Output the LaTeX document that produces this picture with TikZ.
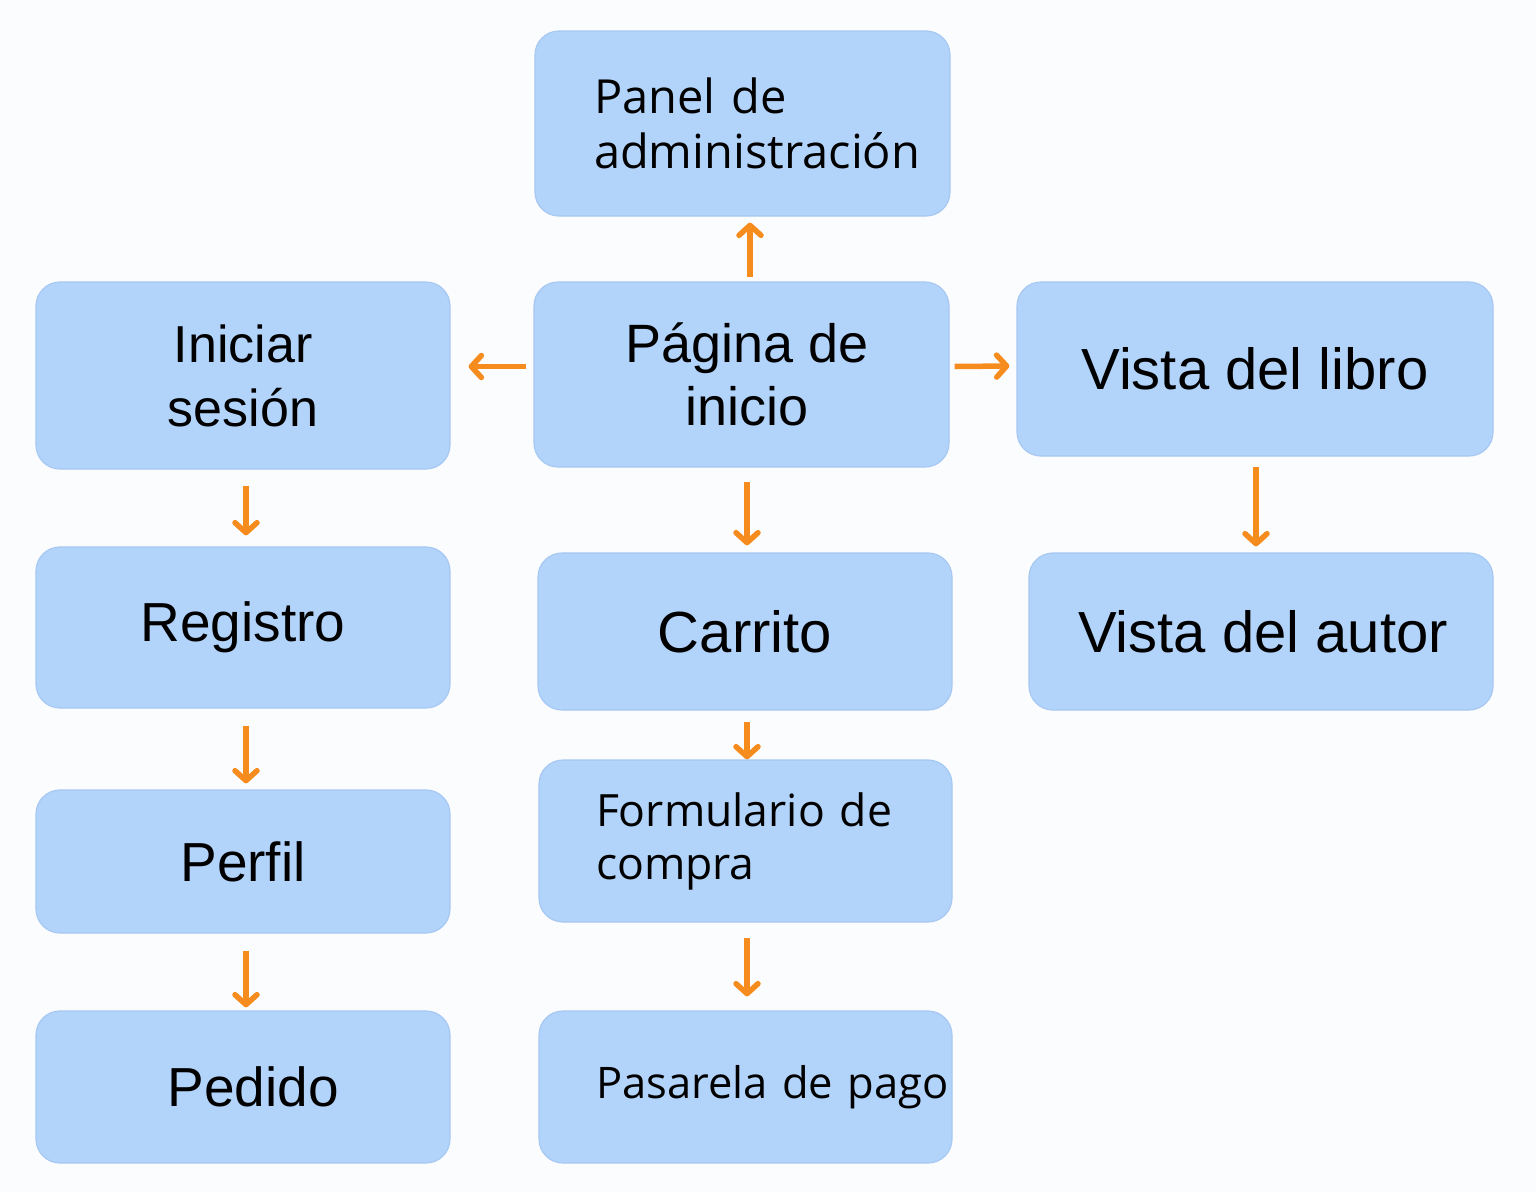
\documentclass[tikz,border=0pt]{standalone}
\usepackage{fontspec}
\setmainfont{Liberation Sans}
\newfontfamily\osans{Open Sans}
\usetikzlibrary{arrows.meta}
\definecolor{bg}{HTML}{FBFCFE}
\definecolor{boxfill}{HTML}{B3D4FA}
\definecolor{boxline}{HTML}{A6C8F2}
\definecolor{arr}{HTML}{F78C1E}
\tikzset{
  box/.style={draw=boxline, fill=boxfill, line width=1.2pt, rounded corners=24pt, inner sep=0pt, align=center, text=black},
  lbox/.style={box, align=left},
  flow/.style={draw=arr, line width=5.5pt, -{Straight Barb[length=10pt,width=22pt,round]}}
}
\begin{document}
\begin{tikzpicture}[x=1pt,y=-1pt]
\fill[bg] (0,0) rectangle (1536,1192);
\useasboundingbox (0,0) rectangle (1536,1192);

\node[lbox, minimum width=415pt, minimum height=185pt, text width=297pt, inner xsep=59pt,
  font=\osans\fontsize{47}{55}\selectfont] (panel) at (742.5,123.5)
  {\mbox{Panel de}\\\mbox{administración}};
\node[box, minimum width=415pt, minimum height=185pt, font=\fontsize{54}{63}\selectfont] (pag) at (741.5,374.5)
  {\hspace*{12pt}Página de\\\hspace*{12pt}inicio};
\node[box, minimum width=414pt, minimum height=187pt, font=\fontsize{52}{64}\selectfont] (ini) at (243,375.5)
  {Iniciar\\sesión};
\node[box, minimum width=476pt, minimum height=174pt, font=\fontsize{58}{64}\selectfont] (vlib) at (1255,369)
  {Vista del libro};
\node[box, minimum width=414pt, minimum height=161pt, font=\fontsize{55}{64}\selectfont] (reg) at (243,627.5)
  {Registro};
\node[box, minimum width=414pt, minimum height=157pt, font=\fontsize{58}{64}\selectfont] (car) at (745,631.5)
  {Carrito};
\node[box, minimum width=464pt, minimum height=157pt, font=\fontsize{58}{64}\selectfont] (vaut) at (1261,631.5)
  {\hspace*{4pt}Vista del autor};
\node[lbox, minimum width=413pt, minimum height=162pt, text width=299pt, inner xsep=57pt,
  font=\osans\fontsize{44.5}{53}\selectfont] (form) at (745.5,841)
  {\mbox{Formulario de}\\\mbox{compra}};
\node[box, minimum width=414pt, minimum height=143pt, font=\fontsize{55}{64}\selectfont] (perf) at (243,861.5)
  {Perfil};
\node[box, minimum width=414pt, minimum height=152pt, font=\fontsize{55}{64}\selectfont] (ped) at (243,1087)
  {\hspace*{20pt}Pedido};
\node[lbox, minimum width=413pt, minimum height=152pt, text width=299pt, inner xsep=57pt,
  font=\osans\fontsize{43.5}{50}\selectfont] (pas) at (745.5,1087)
  {\mbox{Pasarela de pago}};

\draw[flow] ([xshift=8.5pt,yshift=4pt]pag.north) -- ([xshift=7.5pt,yshift=-6pt]panel.south);
\draw[flow] ([xshift=-7pt,yshift=8pt]pag.west) -- ([xshift=18pt,yshift=9pt]ini.east);
\draw[flow] ([xshift=5pt,yshift=8pt]pag.east) -- ([xshift=-7pt,yshift=3pt]vlib.west);
\draw[flow] ([xshift=3pt,yshift=-16pt]ini.south) -- ([xshift=3pt,yshift=11pt]reg.north);
\draw[flow] ([xshift=3pt,yshift=-17pt]reg.south) -- ([xshift=3pt,yshift=6pt]perf.north);
\draw[flow] ([xshift=3pt,yshift=-17pt]perf.south) -- ([xshift=3pt,yshift=3pt]ped.north);
\draw[flow] ([xshift=5.5pt,yshift=-14pt]pag.south) -- ([xshift=2pt,yshift=7pt]car.north);
\draw[flow] ([xshift=2pt,yshift=-11pt]car.south) -- ([xshift=1.5pt,yshift=0pt]form.north);
\draw[flow] ([xshift=1.5pt,yshift=-15pt]form.south) -- ([xshift=1.5pt,yshift=14pt]pas.north);
\draw[flow] ([xshift=1pt,yshift=-10pt]vlib.south) -- ([xshift=-5pt,yshift=6pt]vaut.north);
\end{tikzpicture}
\end{document}
